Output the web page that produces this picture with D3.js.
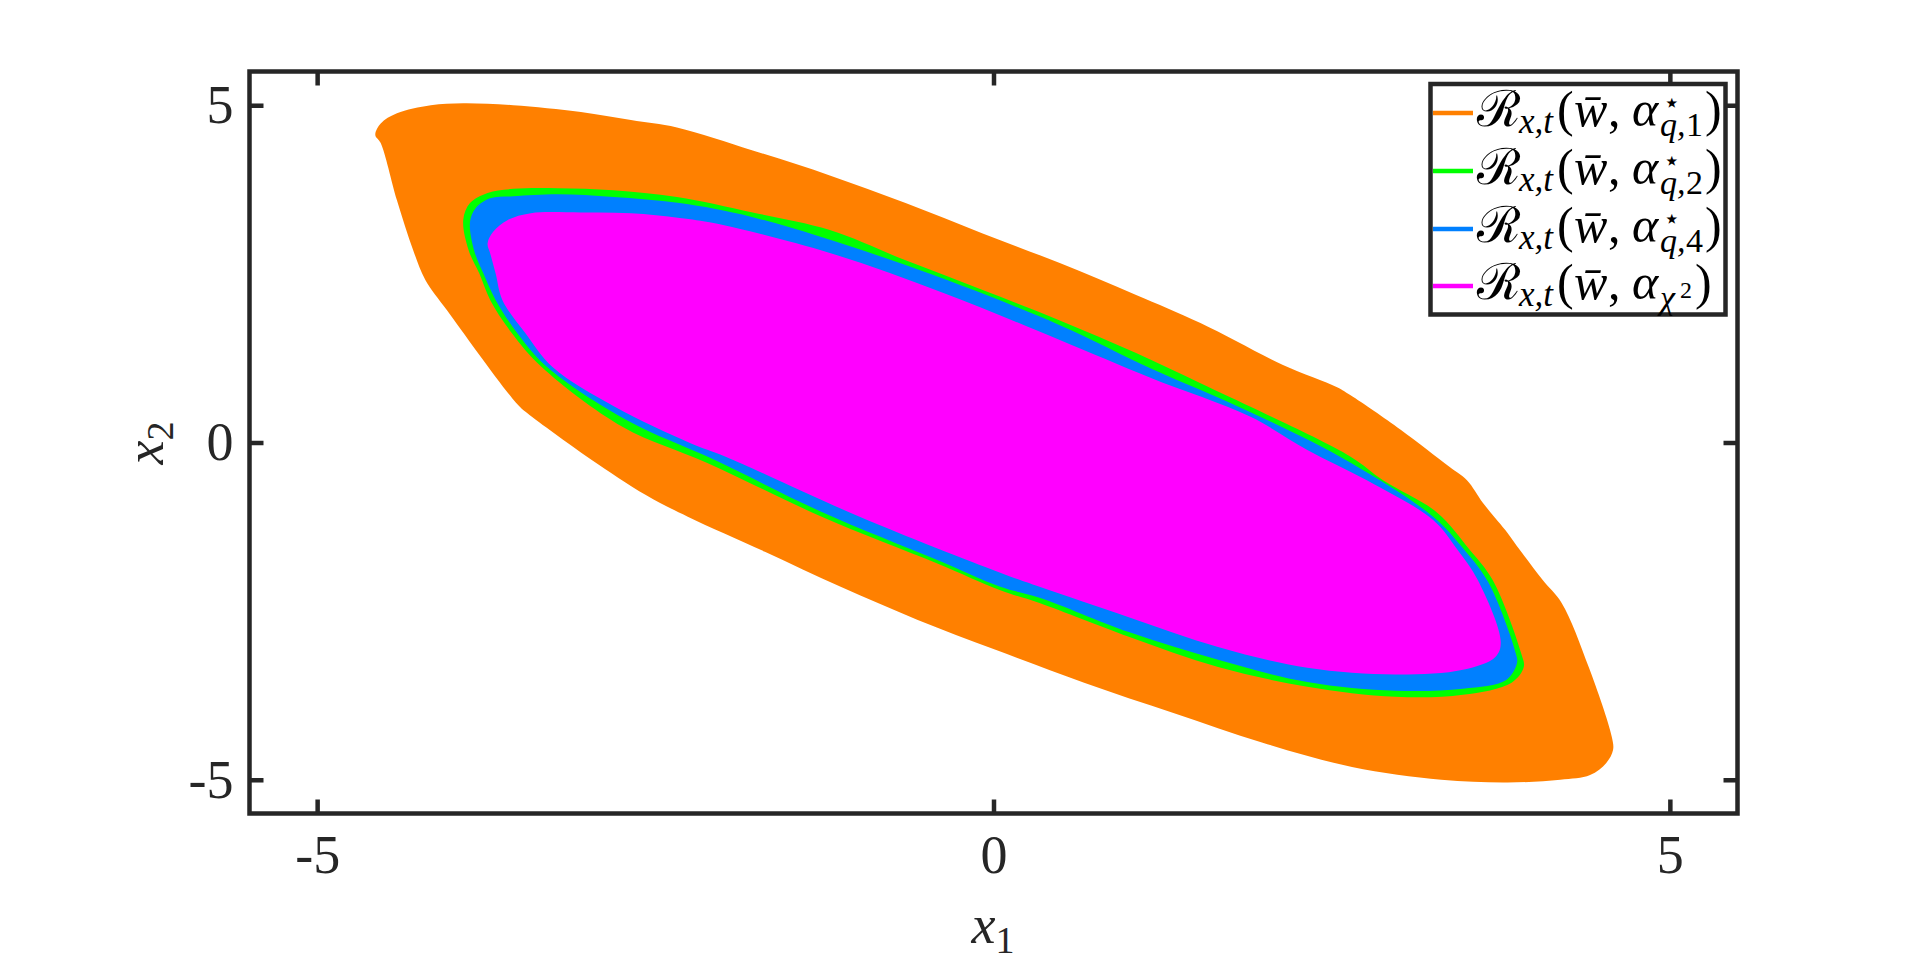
<!DOCTYPE html>
<html><head><meta charset="utf-8">
<script src="https://cdn.jsdelivr.net/npm/d3@7"></script>
<style>body{margin:0;background:#fff;overflow:hidden}</style>
</head><body>
<svg id="c" width="1920" height="963"></svg>
<script>
// ---------------- data ----------------
const xDomain = [-5.5, 5.5];
const yDomain = [-5.5, 5.5];
const xTicks = [-5, 0, 5];
const yTicks = [-5, 0, 5];
const seriesKeys = ["1", "2", "4", "chi2"];
const seriesColors = ["#FF8000", "#00FF00", "#0080FF", "#FF00FF"];

// region outlines [x1, x2]
const regionQ1 = [
  [-4.57,4.56],[-4.53,4.73],[-4.41,4.88],[-4.16,5.00],[-3.92,5.03],[-3.55,5.00],[-3.05,4.90],
  [-2.68,4.78],[-2.34,4.67],[-1.78,4.33],[-1.21,3.96],[-0.65,3.55],[-0.08,3.10],[0.49,2.66],
  [1.05,2.19],[1.53,1.77],[2.14,1.15],[2.54,0.82],[2.64,0.70],[3.01,0.19],[3.37,-0.36],
  [3.50,-0.56],[3.62,-0.90],[3.80,-1.34],[3.89,-1.59],[4.06,-2.04],[4.20,-2.38],[4.40,-3.33],
  [4.57,-4.36],[4.58,-4.56],[4.53,-4.75],[4.41,-4.93],[4.19,-5.00],[3.80,-5.04],[3.31,-5.00],
  [2.65,-4.81],[1.99,-4.45],[1.33,-4.01],[0.67,-3.56],[0.01,-3.07],[-0.56,-2.63],[-1.13,-2.14],
  [-1.69,-1.62],[-2.26,-1.10],[-2.57,-0.78],[-2.97,-0.26],[-3.25,0.14],[-3.45,0.44],[-3.53,0.59],
  [-4.04,1.96],[-4.20,2.41],[-4.29,2.85],[-4.41,3.59],[-4.53,4.44]
];
const regionQ2 = [
  [-3.92,3.30],[-3.87,3.55],[-3.74,3.70],[-3.55,3.76],[-3.22,3.77],[-2.81,3.74],[-2.34,3.64],
  [-1.78,3.41],[-1.21,3.15],[-0.65,2.70],[-0.08,2.26],[0.49,1.81],[1.05,1.33],[1.53,0.88],
  [1.90,0.53],[2.64,-0.21],[2.88,-0.56],[3.28,-1.04],[3.52,-1.59],[3.69,-2.04],[3.90,-3.12],
  [3.92,-3.33],[3.83,-3.56],[3.47,-3.74],[2.97,-3.77],[2.32,-3.62],[1.66,-3.33],[1.00,-2.88],
  [0.34,-2.38],[0.05,-2.19],[-0.42,-1.79],[-1.27,-1.10],[-2.12,-0.30],[-2.74,0.23],[-3.34,1.12],
  [-3.56,1.62],[-3.72,2.11],[-3.80,2.50],[-3.88,2.85]
];
const regionQ4 = [
  [-3.87,3.27],[-3.83,3.47],[-3.72,3.62],[-3.55,3.65],[-3.22,3.68],[-2.81,3.64],[-2.32,3.55],
  [-1.78,3.34],[-0.65,2.63],[0.49,1.74],[1.16,1.10],[1.90,0.45],[2.64,-0.30],[3.25,-1.10],
  [3.48,-1.59],[3.66,-2.08],[3.86,-3.12],[3.87,-3.27],[3.79,-3.52],[3.47,-3.65],[2.97,-3.68],
  [2.32,-3.55],[1.66,-3.22],[1.00,-2.81],[0.34,-2.30],[0.05,-2.14],[-0.42,-1.74],[-1.27,-1.03],
  [-2.06,-0.26],[-2.71,0.33],[-3.30,1.12],[-3.52,1.62],[-3.68,2.11],[-3.77,2.50],[-3.84,2.85]
];
const regionChi2 = [
  [-3.74,2.95],[-3.70,3.12],[-3.59,3.30],[-3.42,3.40],[-3.05,3.41],[-2.68,3.40],[-2.32,3.33],
  [-2.06,3.25],[-1.21,2.81],[-0.36,2.21],[0.49,1.52],[1.16,0.96],[1.90,0.38],[2.32,-0.11],
  [2.76,-0.56],[3.25,-1.15],[3.43,-1.59],[3.58,-2.04],[3.75,-2.96],[3.71,-3.18],[3.47,-3.37],
  [2.97,-3.44],[2.32,-3.34],[1.66,-3.03],[1.00,-2.59],[0.34,-2.14],[0.05,-1.93],[-0.99,-1.10],
  [-1.98,-0.21],[-2.24,-0.01],[-2.80,0.53],[-3.26,1.12],[-3.46,1.62],[-3.63,2.11],[-3.68,2.50],
  [-3.72,2.80]
];
const regions = [regionQ1, regionQ2, regionQ4, regionChi2];

// ---------------- drawing ----------------
const svg = d3.select("#c");
const AX = "#262626";
const FONT = "'Liberation Serif', 'DejaVu Serif', serif";
const x = d3.scaleLinear().domain(xDomain).range([249.5, 1737.5]);
const y = d3.scaleLinear().domain(yDomain).range([813.5, 71.5]);

const line = d3.line().x(d => x(d[0])).y(d => y(d[1])).curve(d3.curveCatmullRomClosed.alpha(0.5));
svg.append("g").selectAll("path").data(regions).join("path")
  .attr("d", d => line(d)).attr("fill", (d, i) => seriesColors[i]).attr("stroke", "none");

function styleAxis(g) {
  g.select(".domain").remove();
  g.selectAll(".tick line").attr("stroke", AX).attr("stroke-width", 4.5);
  g.selectAll(".tick text").attr("font-family", FONT).attr("font-size", 54).attr("fill", AX);
}
const fmt = d => String(d);
svg.append("g").attr("transform", `translate(0,${y.range()[0]})`)
  .call(d3.axisBottom(x).tickValues(xTicks).tickSize(-14).tickPadding(21).tickFormat(fmt)).call(styleAxis);
svg.append("g").attr("transform", `translate(0,${y.range()[1]})`)
  .call(d3.axisTop(x).tickValues(xTicks).tickSize(-14).tickFormat("")).call(styleAxis);
svg.append("g").attr("transform", `translate(${x.range()[0]},0)`)
  .call(d3.axisLeft(y).tickValues(yTicks).tickSize(-14).tickPadding(16).tickFormat(fmt)).call(styleAxis);
svg.append("g").attr("transform", `translate(${x.range()[1]},0)`)
  .call(d3.axisRight(y).tickValues(yTicks).tickSize(-14).tickFormat("")).call(styleAxis);

svg.append("rect").attr("x", x.range()[0]).attr("y", y.range()[1])
  .attr("width", x.range()[1] - x.range()[0]).attr("height", y.range()[0] - y.range()[1])
  .attr("fill", "none").attr("stroke", AX).attr("stroke-width", 4.5);

// axis labels
const xl = svg.append("text").attr("x", 993).attr("y", 943).attr("text-anchor", "middle")
  .attr("font-family", FONT).attr("font-size", 54).attr("fill", AX);
xl.append("tspan").attr("font-style", "italic").text("x");
xl.append("tspan").attr("font-size", 38).attr("dy", 10).text("1");
const yl = svg.append("text").attr("transform", "translate(163,443) rotate(-90)").attr("text-anchor", "middle")
  .attr("font-family", FONT).attr("font-size", 54).attr("fill", AX);
yl.append("tspan").attr("font-style", "italic").text("x");
yl.append("tspan").attr("font-size", 38).attr("dy", 10).text("2");

// legend
const lg = svg.append("g");
lg.append("rect").attr("x", 1430.5).attr("y", 84).attr("width", 295).attr("height", 230.5)
  .attr("fill", "#fff").attr("stroke", AX).attr("stroke-width", 4.5);
const rowY = [113, 171, 229, 286];
const X0 = 1477;

seriesKeys.forEach((k, i) => {
  const cy = rowY[i];
  lg.append("line").attr("x1", 1433).attr("x2", 1473).attr("y1", cy).attr("y2", cy)
    .attr("stroke", seriesColors[i]).attr("stroke-width", 4.5);
  const base = cy + 13;
  const t = lg.append("text").attr("font-family", FONT).attr("fill", "#000").attr("font-size", 50);
  const sp = (px, py, txt, size, italic) => t.append("tspan").attr("x", X0 + px).attr("y", py)
    .attr("font-size", size).attr("font-style", italic ? "italic" : "normal").text(txt);
  sp(0, base, "\u211B", 50, false);
  sp(42, base + 7, "x,t", 35, true);
  sp(80, base, "(", 50, false);
  sp(97, base, "w\u0304", 50, true);
  sp(131, base, ",", 50, false);
  sp(155, base, "\u03B1", 50, true);
  if (k === "chi2") {
    sp(183, base + 10, "\u03C7", 34, true);
    sp(203, base - 1, "2", 24, false);
    sp(218, base, ")", 50, false);
  } else {
    sp(186, base - 14, "\u22C6", 28, false);
    sp(183, base + 10, "q,", 34, true);
    sp(209, base + 10, k, 34, false);
    sp(228, base, ")", 50, false);
  }
});
</script>
</body></html>
